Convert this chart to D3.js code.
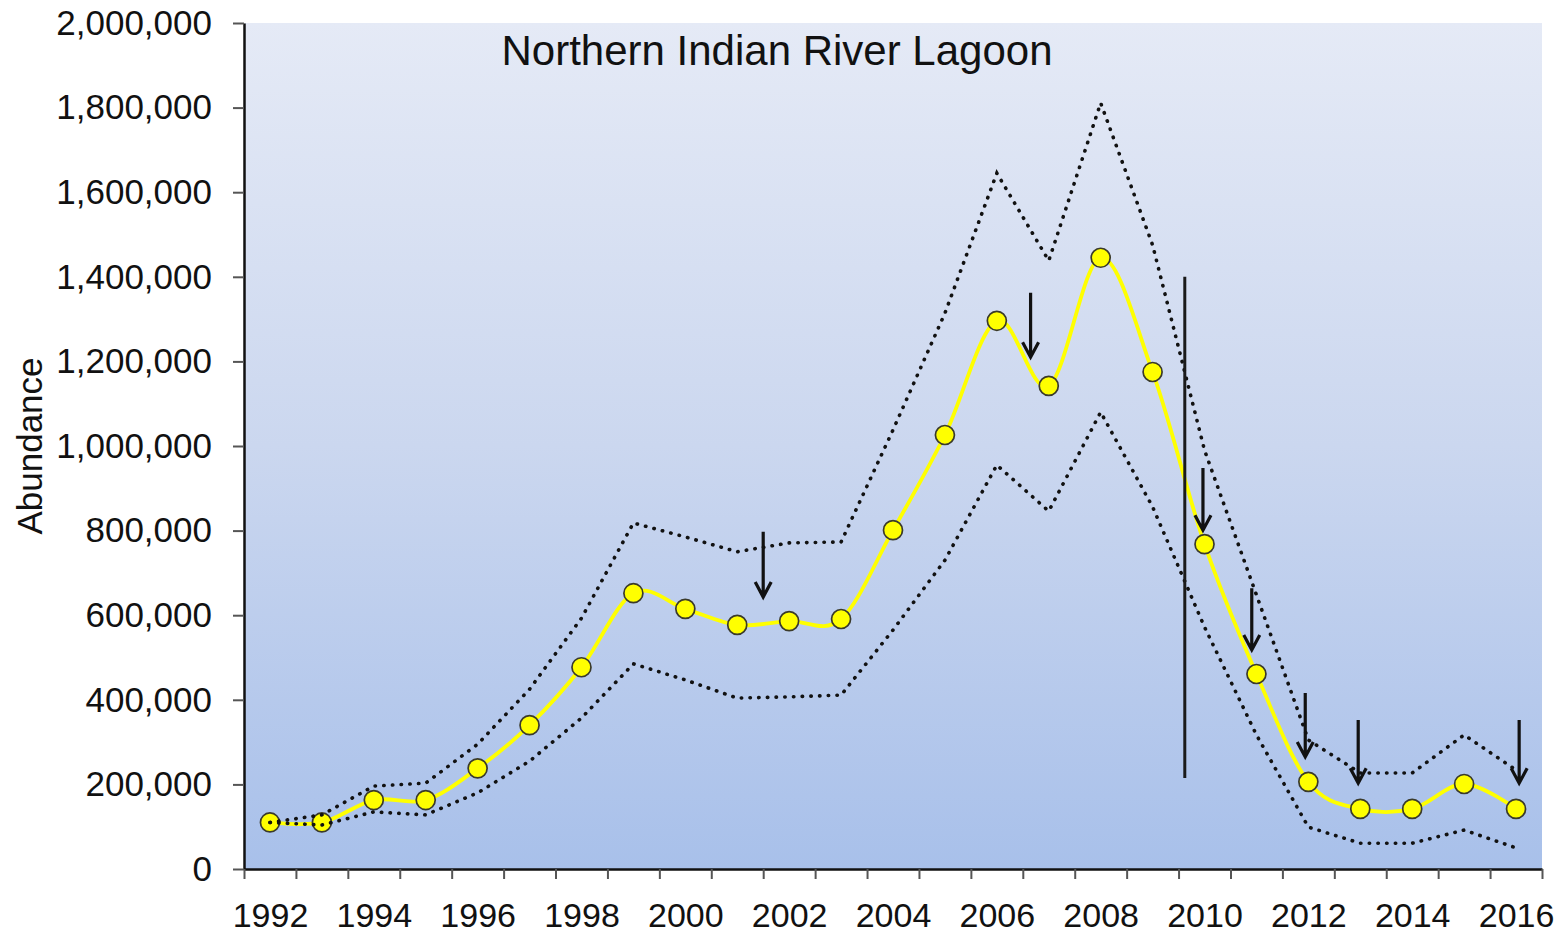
<!DOCTYPE html>
<html><head><meta charset="utf-8">
<script src="https://cdn.jsdelivr.net/npm/d3@7"></script>
<style>
body{margin:0;background:#fff}
svg{display:block}
text{font-family:"Liberation Sans",Arial,Helvetica,sans-serif;fill:#111}
</style>
</head><body>
<svg id="chart" width="1560" height="933"></svg>
<script>
// ---- data ----
const years = [1992,1993,1994,1995,1996,1997,1998,1999,2000,2001,2002,2003,2004,2005,2006,2007,2008,2009,2010,2011,2012,2013,2014,2015,2016];
const abundance = [110000,110000,163000,163000,238000,340000,477000,652000,615000,577000,586000,591000,801000,1026000,1296000,1142000,1445000,1175000,768000,461000,206000,142000,142000,201000,142000];
const upperCI = [110000,128000,196000,203000,295000,425000,593000,818000,785000,750000,771000,773000,1038000,1314000,1645000,1438000,1811000,1475000,990000,648000,305000,227000,227000,317000,234000];
const lowerCI = [110000,104000,135000,128000,180000,255000,357000,485000,447000,404000,407000,411000,565000,730000,955000,846000,1080000,856000,572000,317000,99000,61000,61000,92000,50000];
const yTicks = [0,200000,400000,600000,800000,1000000,1200000,1400000,1600000,1800000,2000000];
const xLabels = [1992,1994,1996,1998,2000,2002,2004,2006,2008,2010,2012,2014,2016];
const arrowYears = [2001.5,2006.65,2009.97,2010.91,2011.94,2012.96,2016.06];
const arrowTops  = [797000,1362000,948000,664000,416000,352000,352000];
const arrowTips  = [643000,1210000,801000,518000,265000,203000,203000];
const markerLineYear = 2009.62;
const markerLineRange = [215000,1400000];
const chartTitle = "Northern Indian River Lagoon";
const yTitle = "Abundance";

// ---- layout ----
const svg = d3.select("#chart");
const pL = 244, pR = 1542, pT = 23, pB = 869;
const x = d3.scaleLinear().domain([years[0]-0.5, years[years.length-1]+0.5]).range([pL,pR]);
const y = d3.scaleLinear().domain([0,2000000]).range([pB,pT]);

const defs = svg.append("defs");
const grad = defs.append("linearGradient").attr("id","bg").attr("x1",0).attr("y1",0).attr("x2",0).attr("y2",1);
grad.append("stop").attr("offset","0%").attr("stop-color","#e5eaf6");
grad.append("stop").attr("offset","50%").attr("stop-color","#cbd7ef");
grad.append("stop").attr("offset","100%").attr("stop-color","#a8c0ea");

svg.append("rect").attr("x",pL).attr("y",pT).attr("width",pR-pL).attr("height",pB-pT).attr("fill","url(#bg)");

// mean line (smoothed)
const pts = years.map((yr,i)=>({yr, v:abundance[i]}));
svg.append("path").datum(pts)
  .attr("d", d3.line().x(d=>x(d.yr)).y(d=>y(d.v)).curve(d3.curveCardinal.tension(0)))
  .attr("fill","none").attr("stroke","#ffff00").attr("stroke-width",3.8);

svg.append("g").selectAll("circle").data(pts).join("circle")
  .attr("cx",d=>x(d.yr)).attr("cy",d=>y(d.v)).attr("r",9.5)
  .attr("fill","#ffff00").attr("stroke","#3a3a2a").attr("stroke-width",1.7);

// CI dotted lines
[upperCI, lowerCI].forEach(arr=>{
  svg.append("path").datum(years.map((yr,i)=>({yr,v:arr[i]})))
    .attr("d", d3.line().x(d=>x(d.yr)).y(d=>y(d.v)))
    .attr("fill","none").attr("stroke","#111").attr("stroke-width",3.6)
    .attr("stroke-linecap","round").attr("stroke-dasharray","0.4,8.3");
});

// vertical line
svg.append("line")
  .attr("x1",x(markerLineYear)).attr("x2",x(markerLineYear))
  .attr("y1",y(markerLineRange[1])).attr("y2",y(markerLineRange[0]))
  .attr("stroke","#1a1a1a").attr("stroke-width",3);

// arrows
const arrows = arrowYears.map((yr,i)=>({yr, t:arrowTops[i], b:arrowTips[i]}));
const ag = svg.append("g").attr("stroke","#111").attr("stroke-width",3.2).attr("fill","none");
ag.selectAll("path").data(arrows).join("path")
  .attr("d",d=>{
    const xx=x(d.yr), t=y(d.t), b=y(d.b);
    return `M${xx},${t}L${xx},${b}M${xx-8},${b-15}L${xx},${b}L${xx+8},${b-15}`;
  });

// axes
const yAxis = svg.append("g").attr("transform",`translate(${pL},0)`)
  .call(d3.axisLeft(y).tickValues(yTicks).tickFormat(d3.format(",")).tickSize(11).tickSizeOuter(0).tickPadding(21));
yAxis.select(".domain").attr("stroke","#111").attr("stroke-width",2.5);
yAxis.selectAll(".tick line").attr("stroke","#555").attr("stroke-width",2);
yAxis.selectAll("text").attr("font-size",35).attr("fill","#111");

const bounds = years.map(v=>v-0.5).concat([years[years.length-1]+0.5]);
const xAxis = svg.append("g").attr("transform",`translate(0,${pB})`)
  .call(d3.axisBottom(x).tickValues(bounds).tickFormat("").tickSize(10).tickSizeOuter(0));
xAxis.select(".domain").attr("stroke","#111").attr("stroke-width",2.5);
xAxis.selectAll(".tick line").attr("stroke","#555").attr("stroke-width",2);

const xLab = svg.append("g").attr("transform",`translate(0,${pB})`)
  .call(d3.axisBottom(x).tickValues(xLabels).tickFormat(d3.format("d")).tickSize(0).tickPadding(34));
xLab.select(".domain").remove();
xLab.selectAll("text").attr("font-size",34).attr("fill","#111");

// titles
svg.append("text").attr("x",777).attr("y",65).attr("text-anchor","middle")
  .attr("font-size",42).text(chartTitle);
svg.append("text").attr("transform","translate(42,446) rotate(-90)")
  .attr("text-anchor","middle").attr("font-size",35).text(yTitle);
</script>
</body></html>
